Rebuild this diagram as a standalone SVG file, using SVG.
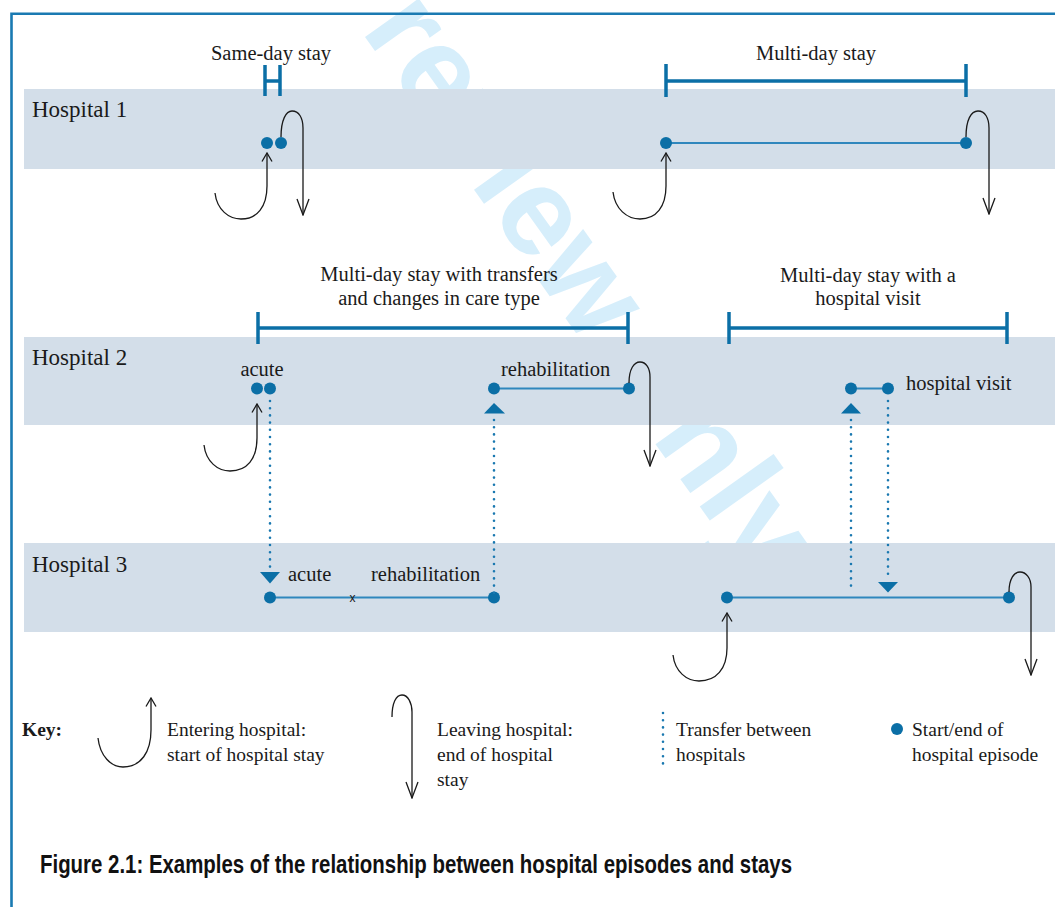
<svg xmlns="http://www.w3.org/2000/svg" width="1055" height="907" viewBox="0 0 1055 907">
<defs>
<style>
.band{fill:#d3dee9}
.lbl{font-family:"Liberation Serif",serif;font-size:20.5px;fill:#1a1a1a}
.hl{font-family:"Liberation Serif",serif;font-size:23px;fill:#1a1a1a}
.key{font-family:"Liberation Serif",serif;font-size:19.5px;fill:#1a1a1a}
.br{stroke:#0b6fa6;stroke-width:3.5;fill:none}
.ep{stroke:#2f87bd;stroke-width:2;fill:none}
.dot{fill:#0b6fa6}
.tri{fill:#0b6fa6}
.tr{stroke:#1a78b0;stroke-width:2.6;stroke-linecap:round;stroke-dasharray:0 7.2;fill:none}
.arr{stroke:#1a1a1a;stroke-width:1.3;fill:none}
.wm{font-family:"Liberation Sans",Arial,sans-serif;font-weight:bold;font-size:125px;fill:#d6eefb}
</style>
<marker id="up" viewBox="-10 -6 11 12" markerWidth="11" markerHeight="12" refX="0" refY="0" orient="auto" markerUnits="userSpaceOnUse">
<path d="M-8.5,-5 L0,0 L-8.5,5" fill="none" stroke="#1a1a1a" stroke-width="1.3"/>
</marker>
<marker id="dn" viewBox="-18 -7 19 14" markerWidth="19" markerHeight="14" refX="0" refY="0" orient="auto" markerUnits="userSpaceOnUse">
<path d="M-16,-6 L0,0 L-16,6" fill="none" stroke="#1a1a1a" stroke-width="1.3"/>
</marker>
</defs>
<rect width="1055" height="907" fill="#ffffff"/>
<text class="wm" transform="translate(360,30) rotate(54.5)">review only</text>
<path d="M11.5,907 L11.5,13.8 L1055,13.8" fill="none" stroke="#1a7ab2" stroke-width="2.6"/>

<g id="hospital1">
<rect class="band" x="24" y="89" width="1031" height="80"/>
<text class="hl" x="32" y="117">Hospital 1</text>
</g>
<g id="hospital2">
<rect class="band" x="24" y="337" width="1031" height="88"/>
<text class="hl" x="32" y="365">Hospital 2</text>
</g>
<g id="hospital3">
<rect class="band" x="24" y="543" width="1031" height="89"/>
<text class="hl" x="32" y="572">Hospital 3</text>
</g>

<g id="same-day-stay">
<text class="lbl" x="271" y="60" text-anchor="middle">Same-day stay</text>
<path class="br" d="M265,65 V96 M280,65 V96 M265,81 H280"/>
<circle class="dot" cx="267" cy="143" r="6"/>
<circle class="dot" cx="281" cy="143" r="6"/>
</g>

<g id="multi-day-stay">
<text class="lbl" x="816" y="60" text-anchor="middle">Multi-day stay</text>
<path class="br" d="M666,64 V97 M966,64 V97 M666,81 H966"/>
<line class="ep" x1="666" y1="143" x2="966" y2="143"/>
<circle class="dot" cx="666" cy="143" r="6"/>
<circle class="dot" cx="966" cy="143" r="6"/>
</g>

<g id="transfers-stay">
<text class="lbl" x="439" y="281" text-anchor="middle">Multi-day stay with transfers</text>
<text class="lbl" x="439" y="305" text-anchor="middle">and changes in care type</text>
<path class="br" d="M258,312 V344 M628,312 V344 M258,328 H628"/>
<text class="lbl" x="262" y="376" text-anchor="middle">acute</text>
<circle class="dot" cx="257" cy="388.5" r="6"/>
<circle class="dot" cx="270" cy="388.5" r="6"/>
<text class="lbl" x="501" y="376">rehabilitation</text>
<line class="ep" x1="494" y1="388.5" x2="629" y2="388.5"/>
<circle class="dot" cx="494" cy="388.5" r="6"/>
<circle class="dot" cx="629" cy="388.5" r="6"/>
<polygon class="tri" points="494,403 484,413.5 505,413.5"/>
<polygon class="tri" points="260,572 280,572 270,583.5"/>
<text class="lbl" x="288" y="581">acute</text>
<text class="lbl" x="371" y="581">rehabilitation</text>
<line class="ep" x1="270" y1="597.5" x2="494" y2="597.5"/>
<text x="352.5" y="601.5" text-anchor="middle" font-family="Liberation Sans, sans-serif" font-size="12" fill="#1a1a1a">x</text>
<circle class="dot" cx="270" cy="597.5" r="6"/>
<circle class="dot" cx="494" cy="597.5" r="6"/>
</g>

<g id="visit-stay">
<text class="lbl" x="868" y="282" text-anchor="middle">Multi-day stay with a</text>
<text class="lbl" x="868" y="305" text-anchor="middle">hospital visit</text>
<path class="br" d="M729,312 V344 M1007,312 V344 M729,328 H1007"/>
<line class="ep" x1="851" y1="388.5" x2="888" y2="388.5"/>
<circle class="dot" cx="851" cy="388.5" r="6"/>
<circle class="dot" cx="888" cy="388.5" r="6"/>
<text class="lbl" x="906" y="390">hospital visit</text>
<polygon class="tri" points="851,403 841,413.5 861,413.5"/>
<polygon class="tri" points="878,582 898,582 888,592.5"/>
<line class="ep" x1="727" y1="597.5" x2="1009" y2="597.5"/>
<circle class="dot" cx="727" cy="597.5" r="6"/>
<circle class="dot" cx="1009" cy="597.5" r="6"/>
</g>

<g id="connectors">
<path class="tr" d="M270,401 V568"/>
<path class="tr" d="M494,420 V598"/>
<path class="tr" d="M851,420 V590"/>
<path class="tr" d="M888,401 V578"/>
<path class="arr" marker-end="url(#up)" d="M215,193 C217,210 229,219 241,219 C257,219 267,207 267,186 L267,153"/>
<path class="arr" marker-end="url(#dn)" d="M281,137 C281,120 286,111 292,111 C299,111 303,118 303,128 L303,215"/>
<path class="arr" marker-end="url(#up)" d="M613,192 C615,209 627,219 640,219 C656,219 666,207 666,186 L666,153"/>
<path class="arr" marker-end="url(#dn)" d="M966,137 C966,120 971,111 978,111 C985,111 989,118 989,128 L989,214"/>
<path class="arr" marker-end="url(#up)" d="M204,445 C206,462 218,471 230,471 C247,471 257,459 257,438 L257,404"/>
<path class="arr" marker-end="url(#dn)" d="M629,383 C629,369 634,362 640,362 C646,362 650,368 650,377 L650,466"/>
<path class="arr" marker-end="url(#up)" d="M673,655 C675,672 687,681 699,681 C716,681 727,669 727,648 L727,613"/>
<path class="arr" marker-end="url(#dn)" d="M1009,592 C1009,579 1014,572 1020,572 C1026,572 1031,578 1031,587 L1031,675"/>
</g>

<g id="key">
<text x="22" y="736" font-family="Liberation Serif, serif" font-size="19.5" font-weight="bold" fill="#1a1a1a">Key:</text>
<path class="arr" marker-end="url(#up)" d="M98,738 C100,756 111,767 123,767 C141,767 151,752 151,730 L151,698"/>
<text class="key" x="167" y="736">Entering hospital:</text>
<text class="key" x="167" y="761">start of hospital stay</text>
<path class="arr" marker-end="url(#dn)" d="M392,717 C392,703 396,695 402,695 C408,695 412,703 412,712 L412,798"/>
<text class="key" x="437" y="736">Leaving hospital:</text>
<text class="key" x="437" y="761">end of hospital</text>
<text class="key" x="437" y="786">stay</text>
<path class="tr" d="M663,713 V770"/>
<text class="key" x="676" y="736">Transfer between</text>
<text class="key" x="676" y="761">hospitals</text>
<circle class="dot" cx="897" cy="729" r="6"/>
<text class="key" x="912" y="736">Start/end of</text>
<text class="key" x="912" y="761">hospital episode</text>
</g>

<text x="40" y="873" font-family="Liberation Sans, Arial, sans-serif" font-size="25" font-weight="bold" fill="#111111" textLength="752" lengthAdjust="spacingAndGlyphs">Figure 2.1: Examples of the relationship between hospital episodes and stays</text>
</svg>
